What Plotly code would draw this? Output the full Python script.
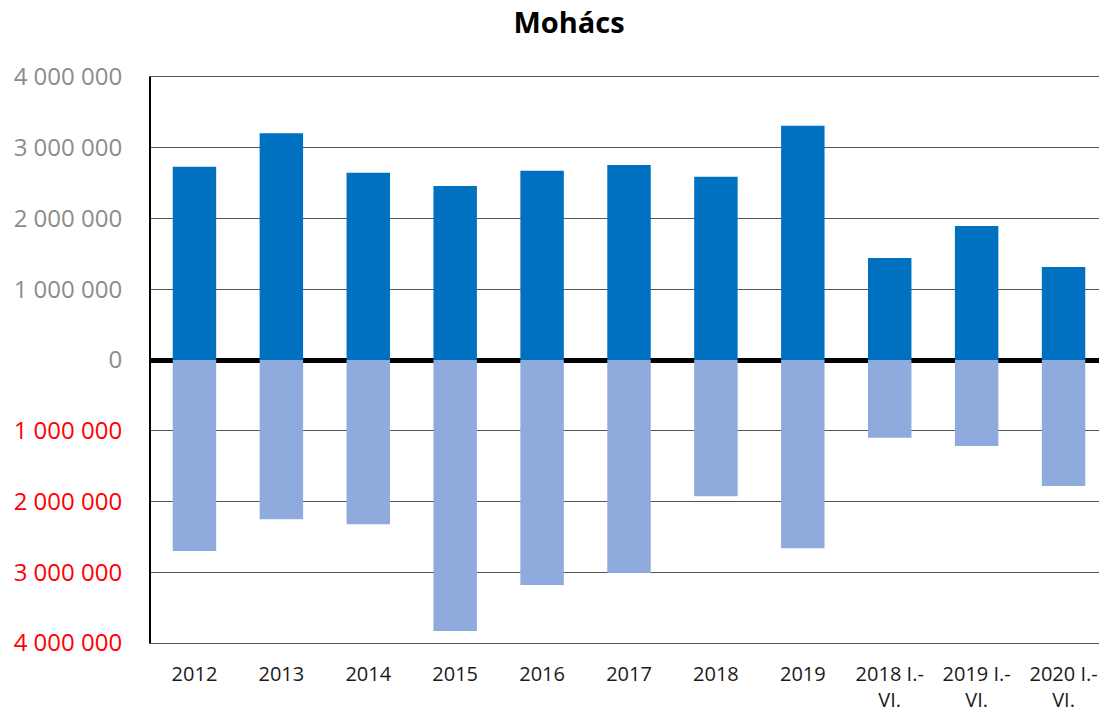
import plotly.graph_objects as go

categories = ["2012", "2013", "2014", "2015", "2016", "2017", "2018", "2019",
              "2018 I.-<br>VI.", "2019 I.-<br>VI.", "2020 I.-<br>VI."]
positive = [2730000, 3205000, 2645000, 2460000, 2675000, 2755000, 2590000, 3310000,
            1440000, 1895000, 1315000]
negative = [-2700000, -2250000, -2320000, -3830000, -3180000, -3010000, -1925000, -2660000,
            -1100000, -1215000, -1780000]
tick_vals = [4000000, 3000000, 2000000, 1000000, 0, -1000000, -2000000, -3000000, -4000000]
tick_text = ["4 000 000", "3 000 000", "2 000 000", "1 000 000", "0",
             "1 000 000", "2 000 000", "3 000 000", "4 000 000"]

tick_labels = [
    f'<span style="color:#8c8c8c">{t}</span>' if v >= 0 else f'<span style="color:#ff0000">{t}</span>'
    for v, t in zip(tick_vals, tick_text)
]

# The page body adds an 8px offset; size the figure to fit the window.
W, H = 1099, 708

fig = go.Figure()
fig.add_trace(go.Bar(x=categories, y=positive, marker=dict(color="#0070C0", line=dict(width=0)), width=0.5))
fig.add_trace(go.Bar(x=categories, y=negative, marker=dict(color="#8FAADC", line=dict(width=0)), width=0.5))

fig.update_layout(
    width=W, height=H,
    barmode="relative",
    showlegend=False,
    plot_bgcolor="white", paper_bgcolor="white",
    margin=dict(l=143, r=0, t=69, b=73, autoexpand=False),
    font=dict(family="Open Sans, Liberation Sans, sans-serif", color="#000000"),
    title=dict(text="<b>Mohács</b>", x=561 / W, xanchor="center", y=1 - 5 / H, yanchor="top",
               pad=dict(t=0), font=dict(size=29, color="#000000")),
    xaxis=dict(showgrid=False, showline=True, mirror=True, linecolor="#555555", linewidth=1,
               ticks="", tickfont=dict(size=20, color="#1a1a1a"), automargin=False,
               ticklabelstandoff=13),
    yaxis=dict(range=[-4000000, 4000000], tickvals=tick_vals, ticktext=tick_labels,
               showgrid=True, gridcolor="#555555", gridwidth=1,
               zeroline=True, zerolinecolor="#000000", zerolinewidth=5,
               showline=True, linecolor="#000000", linewidth=2, automargin=False,
               ticks="", tickfont=dict(size=24), ticklabelstandoff=22),
    bargap=0.5,
)

fig.write_html("out.html")
